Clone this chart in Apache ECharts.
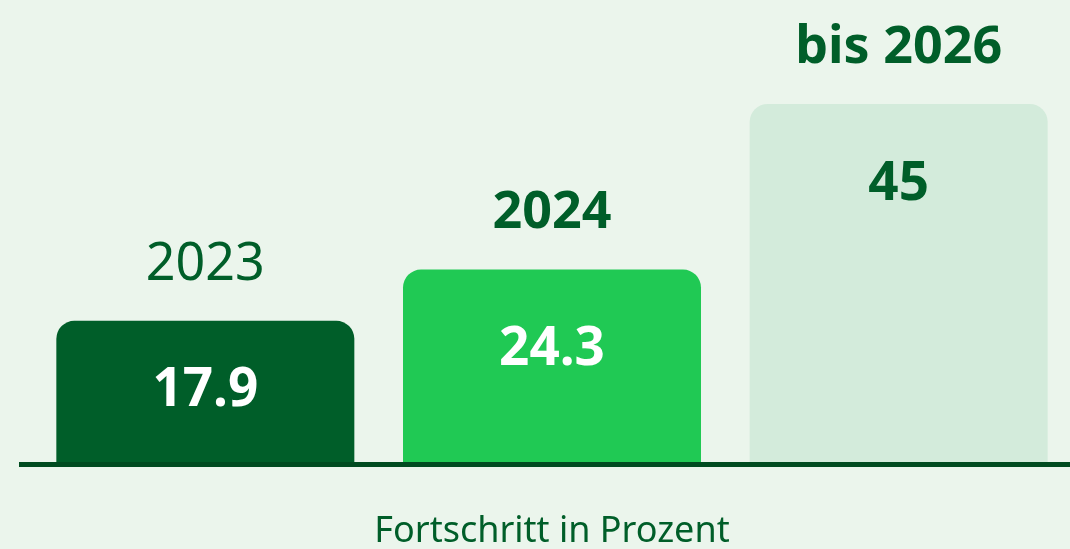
<!DOCTYPE html>
<html>
<head>
<meta charset="utf-8">
<style>
  html, body { margin: 0; padding: 0; background: #EBF5EC; }
  #main { width: 1070px; height: 549px; }
</style>
<script src="https://cdn.jsdelivr.net/npm/echarts@6/dist/echarts.min.js"></script>
</head>
<body>
<div id="main"></div>
<script>
var years = ['2023', '2024', 'bis 2026'];
var values = [17.9, 24.3, 45];
var barColors = ['#005E29', '#20C954', '#D3EBDB'];
var valueColors = ['#FFFFFF', '#FFFFFF', '#005E29'];
var yearWeights = ['normal', 'bold', 'bold'];

var myChart = echarts.init(document.getElementById('main'));

var option = {
  backgroundColor: '#EBF5EC',
  textStyle: { fontFamily: 'Noto Sans' },
  grid: { left: 32, right: -2, top: 64, bottom: 85, outerBoundsMode: 'none' },
  xAxis: {
    type: 'category',
    data: years,
    axisLine: { show: false },
    axisTick: { show: false },
    axisLabel: { show: false },
    name: 'Fortschritt in Prozent',
    nameLocation: 'middle',
    nameGap: 50,
    nameTextStyle: { fontFamily: 'Noto Sans', fontSize: 36, color: '#005E29' }
  },
  yAxis: {
    type: 'value',
    min: 0,
    max: 50,
    show: false,
    splitLine: { show: false }
  },
  series: [
    {
      type: 'bar',
      barWidth: 298,
      data: values.map(function (v, i) {
        return {
          value: v,
          itemStyle: { color: barColors[i], borderRadius: [18, 18, 0, 0] },
          label: {
            color: valueColors[i],
            distance: i === 0 ? 44 : 54
          }
        };
      }),
      label: {
        show: true,
        position: 'insideTop',
        fontFamily: 'Noto Sans',
        fontSize: 53,
        fontWeight: 'bold',
        formatter: function (p) { return String(p.value); }
      },
      silent: true
    },
    {
      type: 'bar',
      barWidth: 298,
      barGap: '-100%',
      data: values.map(function (v, i) {
        return {
          value: v,
          label: { fontWeight: yearWeights[i] }
        };
      }),
      itemStyle: { color: 'rgba(0,0,0,0)' },
      label: {
        show: true,
        position: 'top',
        distance: 30,
        fontFamily: 'Noto Sans',
        fontSize: 52,
        color: '#005E29',
        formatter: function (p) { return years[p.dataIndex]; }
      },
      silent: true,
      z: 3
    }
  ]
};
myChart.setOption(option);

// Grundlinie, reicht links etwas über das Raster hinaus
var baseY = myChart.convertToPixel({ yAxisIndex: 0 }, 0);
myChart.setOption({
  graphic: [{
    type: 'rect',
    shape: { x: 19, y: baseY - 2, width: 1051, height: 5 },
    style: { fill: '#004B20' },
    z: 10
  }]
});
</script>
</body>
</html>
